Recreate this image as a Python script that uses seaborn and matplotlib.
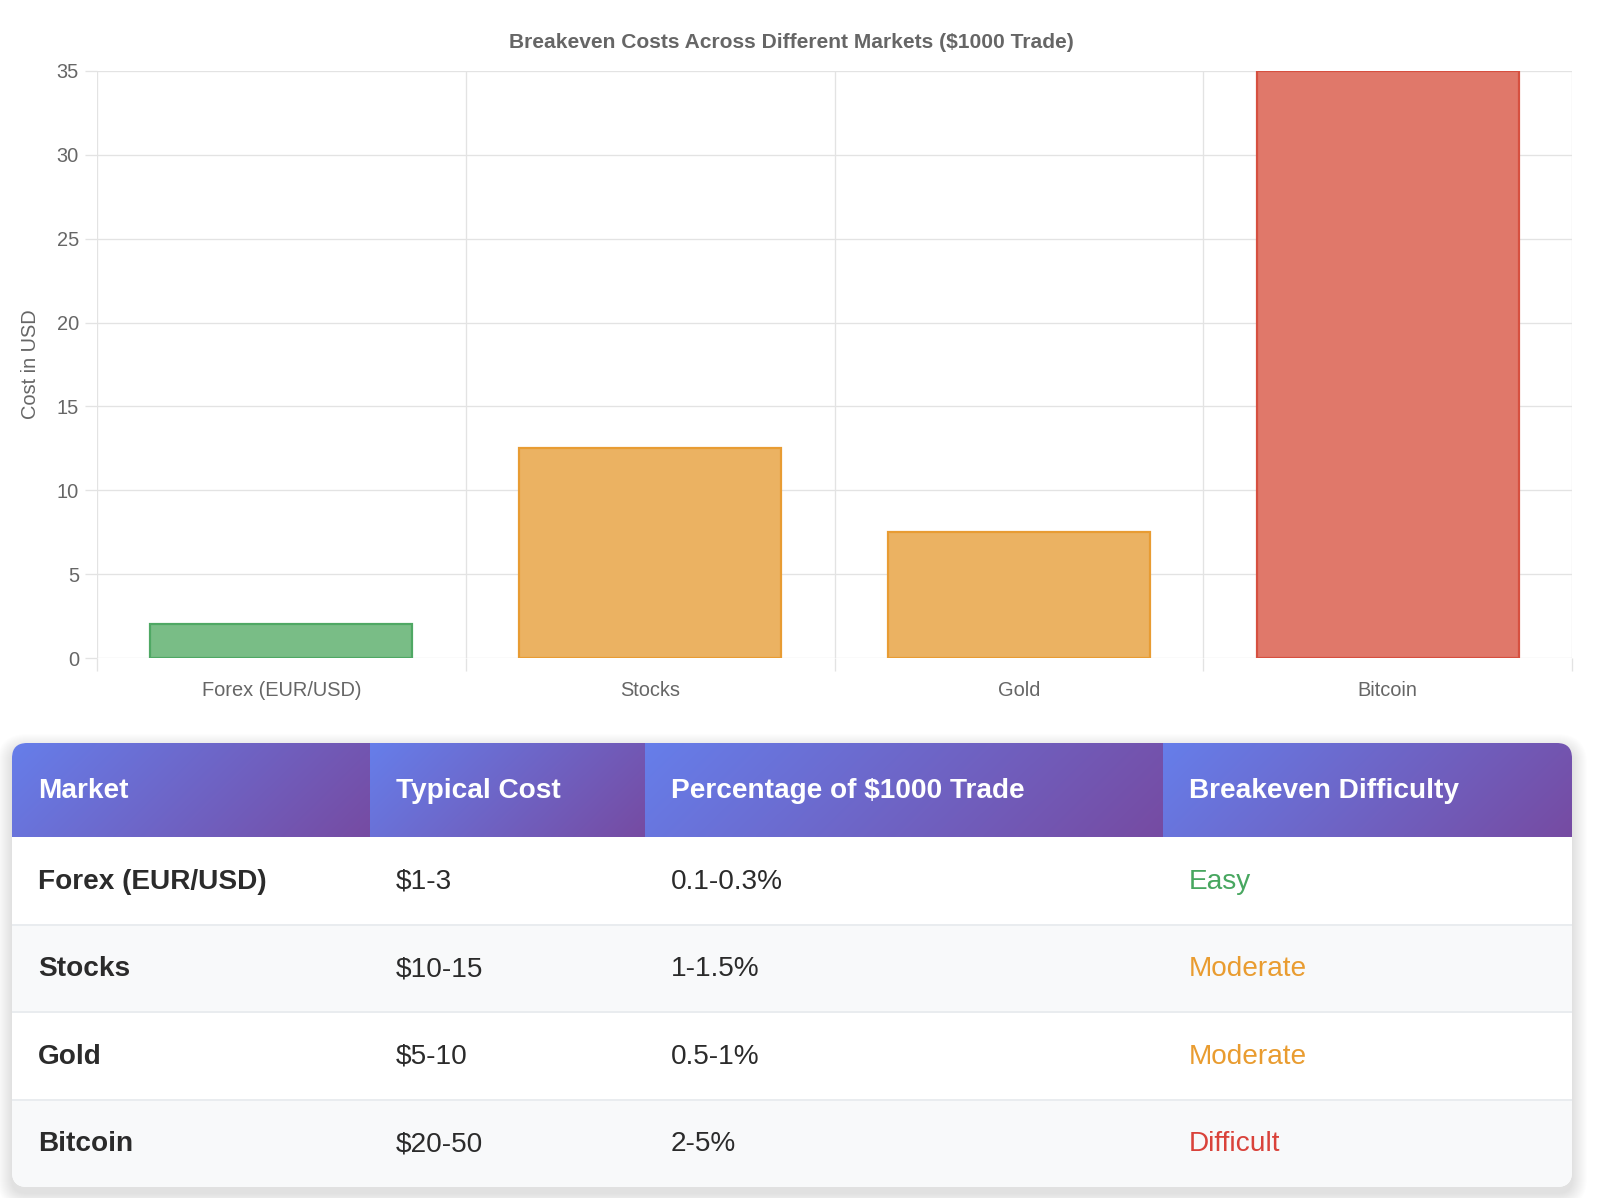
import numpy as np
import pandas as pd
import matplotlib
matplotlib.use('Agg')
import matplotlib.pyplot as plt
from matplotlib.patches import FancyBboxPatch, Rectangle
from matplotlib.colors import to_rgb
import seaborn as sns

# ---- data ----
markets = ["Forex (EUR/USD)", "Stocks", "Gold", "Bitcoin"]
costs = [2, 12.5, 7.5, 35]
typical_cost = ["$1-3", "$10-15", "$5-10", "$20-50"]
percentages = ["0.1-0.3%", "1-1.5%", "0.5-1%", "2-5%"]
difficulty = ["Easy", "Moderate", "Moderate", "Difficult"]
headers = ["Market", "Typical Cost", "Percentage of $1000 Trade", "Breakeven Difficulty"]
y_ticks = [0, 5, 10, 15, 20, 25, 30, 35]

fill_colors = ["#79bd86", "#ebb262", "#ebb262", "#e0786a"]
edge_colors = ["#4fa864", "#e89c33", "#e89c33", "#d65040"]
diff_colors = {"Easy": "#48a760", "Moderate": "#e99c30", "Difficult": "#d9423a"}

W, H = 1600, 1198
def pt(v):
    # pixels -> points at dpi 100
    return v * 72 / 100

sns.set_theme(style="white")
plt.rcParams['font.family'] = ['Liberation Sans', 'DejaVu Sans']

fig = plt.figure(figsize=(W / 100, H / 100), dpi=100, facecolor="white")

# ---- bar chart ----
left, right, top, bottom = 97, 1572, 71, 658
ax = fig.add_axes([left / W, 1 - bottom / H, (right - left) / W, (bottom - top) / H])
df = pd.DataFrame({"market": markets, "cost": costs})
sns.barplot(data=df, x="market", y="cost", hue="market", palette=fill_colors,
            width=0.71, legend=False, ax=ax, linewidth=pt(2.2), saturation=1)
for patch, ec in zip(ax.patches, edge_colors):
    patch.set_edgecolor(ec)

grid_c = "#e3e3e3"
ax.set_xlim(-0.5, len(markets) - 0.5)
ax.set_ylim(0, 35)
ax.set_yticks(y_ticks)
ax.set_xticks(np.arange(-0.5, len(markets)), minor=True)
ax.grid(True, which="minor", axis="x", color=grid_c, linewidth=pt(1.3))
ax.grid(True, which="major", axis="y", color=grid_c, linewidth=pt(1.3))
ax.grid(False, which="major", axis="x")
ax.set_axisbelow(True)
for s in ax.spines.values():
    s.set_visible(False)
ax.tick_params(axis="y", which="major", length=pt(12), width=pt(1.3), color=grid_c,
               pad=pt(6), labelsize=pt(20), labelcolor="#666666", left=True)
ax.tick_params(axis="x", which="major", length=0, pad=pt(23), labelsize=pt(20),
               labelcolor="#666666")
ax.tick_params(axis="x", which="minor", length=pt(13), width=pt(1.3), color=grid_c,
               bottom=True)
ax.set_xlabel("")
ax.set_ylabel("")
ax.set_facecolor("white")

fig.text(791 / W, 1 - 42 / H, "Breakeven Costs Across Different Markets ($1000 Trade)",
         ha="center", va="center", fontsize=pt(21), fontweight="bold", color="#666666")
fig.text(31 / W, 1 - 364 / H, "Cost in USD", rotation=90, ha="center", va="center",
         fontsize=pt(20), color="#666666")

# ---- table ----
tab = fig.add_axes([0, 0, 1, 1], zorder=-1)
tab.set_xlim(0, W)
tab.set_ylim(H, 0)
tab.axis("off")
tab.patch.set_visible(False)

tx0, tx1 = 12, 1572
ty0 = 743
header_h = 94
row_h = 87.5
col_edges = [12, 370, 645, 1163, 1572]
tw = tx1 - tx0
th = header_h + row_h * len(markets)
radius = 15

# soft shadow
for g in range(1, 16):
    sh = FancyBboxPatch((tx0 - g, ty0 - g + 6), tw + 2 * g, th + 2 * g,
                        boxstyle=f"round,pad=0,rounding_size={radius + g}",
                        fc="black", ec="none", alpha=0.006, zorder=1)
    tab.add_patch(sh)

table_box = FancyBboxPatch((tx0, ty0), tw, th,
                           boxstyle=f"round,pad=0,rounding_size={radius}",
                           fc="white", ec="none", zorder=2)
tab.add_patch(table_box)

# header cells with 135deg gradient
c_start = np.array(to_rgb("#667eea"))
c_end = np.array(to_rgb("#764ba2"))
for i in range(len(headers)):
    x0, x1 = col_edges[i], col_edges[i + 1]
    cw = x1 - x0
    xs = np.linspace(0, cw, 200)
    ys = np.linspace(0, header_h, 40)
    xx, yy = np.meshgrid(xs, ys)
    t = (xx + yy) / (cw + header_h)
    img = c_start[None, None, :] * (1 - t[..., None]) + c_end[None, None, :] * t[..., None]
    im = tab.imshow(img, extent=(x0, x1, ty0 + header_h, ty0), origin="upper",
                    aspect="auto", interpolation="bilinear", zorder=3)
    im.set_clip_path(table_box)
    tab.text(x0 + 26, ty0 + header_h / 2 + 1, headers[i], ha="left", va="center",
             fontsize=pt(28), fontweight="bold", color="white", zorder=5)

# body rows
for r in range(len(markets)):
    ry = ty0 + header_h + r * row_h
    bg = "#f8f9fa" if r % 2 == 1 else "white"
    cell = Rectangle((tx0, ry), tw, row_h, fc=bg, ec="none", zorder=3)
    tab.add_patch(cell)
    cell.set_clip_path(table_box)
    if r > 0:
        tab.plot([tx0, tx1], [ry, ry], color="#e9ecef", lw=pt(2), zorder=4,
                 solid_capstyle="butt")
    cy = ry + row_h / 2 + 1
    vals = [markets[r], typical_cost[r], percentages[r], difficulty[r]]
    for c, v in enumerate(vals):
        color = diff_colors[v] if c == 3 else "#2b2b2b"
        weight = "bold" if c == 0 else "normal"
        tab.text(col_edges[c] + 26, cy, v, ha="left", va="center", fontsize=pt(28),
                 fontweight=weight, color=color, zorder=5)

tab.set_xlim(0, W)
tab.set_ylim(H, 0)

fig.savefig("out.png", dpi=100, facecolor="white")
plt.close(fig)
